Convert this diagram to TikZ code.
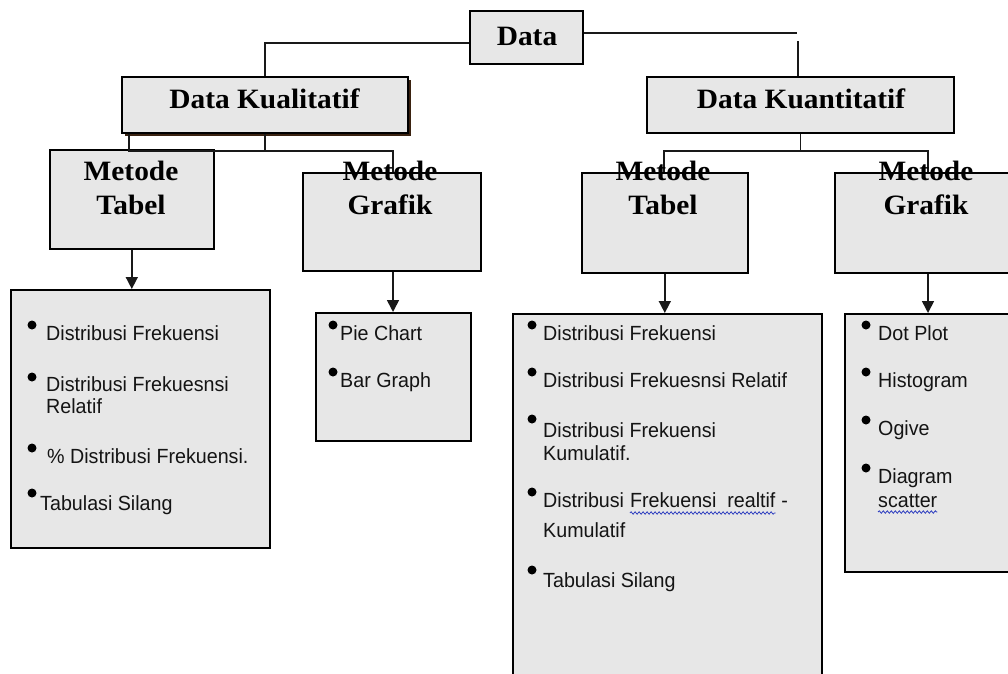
\documentclass[tikz,border=0pt]{standalone}
\usepackage{fontspec}
\usetikzlibrary{arrows.meta,shadows,decorations.pathmorphing}
\newfontfamily\headfont[FakeStretch=1.05]{Liberation Serif}
\newfontfamily\listfont[FakeStretch=0.96]{Liberation Sans}
\definecolor{boxfill}{HTML}{E7E7E7}
\definecolor{shadowc}{HTML}{3A2210}
\definecolor{squigc}{HTML}{3040C0}
\begin{document}
\begin{tikzpicture}[x=1pt,y=-1pt,
  box/.style={draw=black, line width=1.6pt, fill=boxfill, inner sep=0, anchor=north west},
  head/.style={font=\headfont\bfseries\fontsize{28}{34}\selectfont, inner sep=0, anchor=base},
  item/.style={font=\listfont\fontsize{20.5}{24}\selectfont, inner sep=0, anchor=base west, text=black!92},
  bul/.style={circle, fill=black, minimum size=9pt, inner sep=0},
  conn/.style={line width=1.6pt, draw=black!90},
  arr/.style={conn, -{Triangle[width=12pt,length=12pt]}},
  squig/.style={draw=squigc, line width=0.8pt, decorate, decoration={snake, amplitude=1.2pt, segment length=4pt}}
]
\useasboundingbox (0,0) rectangle (1008,673);
\clip (0,0) rectangle (1008,673);

% boxes
\node[box, minimum width=113pt, minimum height=53pt] (data) at (469,10) {};
\node[box, minimum width=286pt, minimum height=56pt,
      drop shadow={shadow xshift=3pt, shadow yshift=-3pt, fill=shadowc, opacity=1}] (kual) at (121,76) {};
\node[box, minimum width=307pt, minimum height=56pt] (kuan) at (646,76) {};
\node[box, minimum width=164pt, minimum height=99pt] (tabL) at (49,149) {};
\node[box, minimum width=178pt, minimum height=98pt] (grafL) at (302,172) {};
\node[box, minimum width=166pt, minimum height=100pt] (tabR) at (581,172) {};
\node[box, minimum width=186pt, minimum height=100pt] (grafR) at (834,172) {};
\node[box, minimum width=259pt, minimum height=258pt] (listL) at (10,289) {};
\node[box, minimum width=155pt, minimum height=128pt] (pie) at (315,312) {};
\node[box, minimum width=309pt, minimum height=380pt] (listR) at (512,313) {};
\node[box, minimum width=180pt, minimum height=258pt] (dotR) at (844,313) {};

% connectors
\coordinate (kbusL) at (129,151);
\coordinate (kbusR) at (393,151);
\coordinate (rc) at (797,33);
\coordinate (rtop) at (798,41);
\coordinate (qbusL) at (664,151);
\coordinate (qbusR) at (928,151);

\draw[conn] ([yshift=-5.5pt]data.west) -| (kual.north);
\draw[conn] (data.east |- rc) -- (rc);
\draw[conn] (rtop) -- (rtop |- kuan.north);
\draw[conn] (kual.south -| kbusL) -- (kbusL) -- (kbusR) -- (kbusR |- grafL.north);
\draw[conn] (kual.south) -- (kual.south |- kbusL);
\draw[conn] (kuan.south) -- (kuan.south |- qbusL);
\draw[conn] (qbusL |- tabR.north) -- (qbusL) -- (qbusR) -- (qbusR |- grafR.north);

\draw[arr] (tabL.south) -- (tabL.south |- listL.north);
\draw[arr] (kbusR |- grafL.south) -- (kbusR |- pie.north);
\draw[arr] (tabR.south) -- (tabR.south |- listR.north);
\draw[arr] (qbusR |- grafR.south) -- (qbusR |- dotR.north);

% headings
\node[head] (tData) at (527,45) {Data};
\node[head] (tKual) at (264.5,108) {Data Kualitatif};
\node[head] (tKuan) at (801,108) {Data Kuantitatif};
\node[head] (tTabL1) at (131,180.5) {Metode};
\node[head] (tTabL2) at (131,214) {Tabel};
\node[head] (tGrafL1) at (390,180.5) {Metode};
\node[head] (tGrafL2) at (390,214) {Grafik};
\node[head] (tTabR1) at (663,180.5) {Metode};
\node[head] (tTabR2) at (663,214) {Tabel};
\node[head] (tGrafR1) at (926,180.5) {Metode};
\node[head] (tGrafR2) at (926,214) {Grafik};

% left list
\node[bul] (lb1) at (32,325) {};
\node[item] (l1) at (46,340) {Distribusi Frekuensi};
\node[bul] (lb2) at (32,377) {};
\node[item] (l2) at (46,391) {Distribusi Frekuesnsi};
\node[item] (l2b) at (46,413) {Relatif};
\node[bul] (lb3) at (32,448) {};
\node[item] (l3) at (47,463) {\% Distribusi Frekuensi.};
\node[bul] (lb4) at (32,493) {};
\node[item] (l4) at (40,510) {Tabulasi Silang};

% pie list
\node[bul] (pb1) at (333,325) {};
\node[item] (p1) at (340,340) {Pie Chart};
\node[bul] (pb2) at (333,372) {};
\node[item] (p2) at (340,387) {Bar Graph};

% right table list
\node[bul] (rb1) at (532,325) {};
\node[item] (r1) at (543,340) {Distribusi Frekuensi};
\node[bul] (rb2) at (532,372) {};
\node[item] (r2) at (543,387) {Distribusi Frekuesnsi Relatif};
\node[bul] (rb3) at (532,419) {};
\node[item] (r3) at (543,437) {Distribusi Frekuensi};
\node[item] (r3b) at (543,460) {Kumulatif.};
\node[bul] (rb4) at (532,492) {};
\node[item] (r4a) at (543,507) {Distribusi};
\node[item] (r4b) at ([xshift=5.5pt]r4a.base east) {Frekuensi\ \ realtif};
\node[item] (r4c) at ([xshift=5.5pt]r4b.base east) {-};
\node[item] (r4d) at (543,537) {Kumulatif};
\node[bul] (rb5) at (532,570) {};
\node[item] (r5) at (543,587) {Tabulasi Silang};
\draw[squig] ([yshift=-6pt]r4b.base west) -- ([yshift=-6pt]r4b.base east);

% right graph list
\node[bul] (gb1) at (866,325) {};
\node[item] (g1) at (878,340) {Dot Plot};
\node[bul] (gb2) at (866,372) {};
\node[item] (g2) at (878,387) {Histogram};
\node[bul] (gb3) at (866,420) {};
\node[item] (g3) at (878,435) {Ogive};
\node[bul] (gb4) at (866,468) {};
\node[item] (g4) at (878,483) {Diagram};
\node[item] (g4b) at (878,507) {scatter};
\draw[squig] ([yshift=-5pt]g4b.base west) -- ([yshift=-5pt]g4b.base east);
\end{tikzpicture}
\end{document}
